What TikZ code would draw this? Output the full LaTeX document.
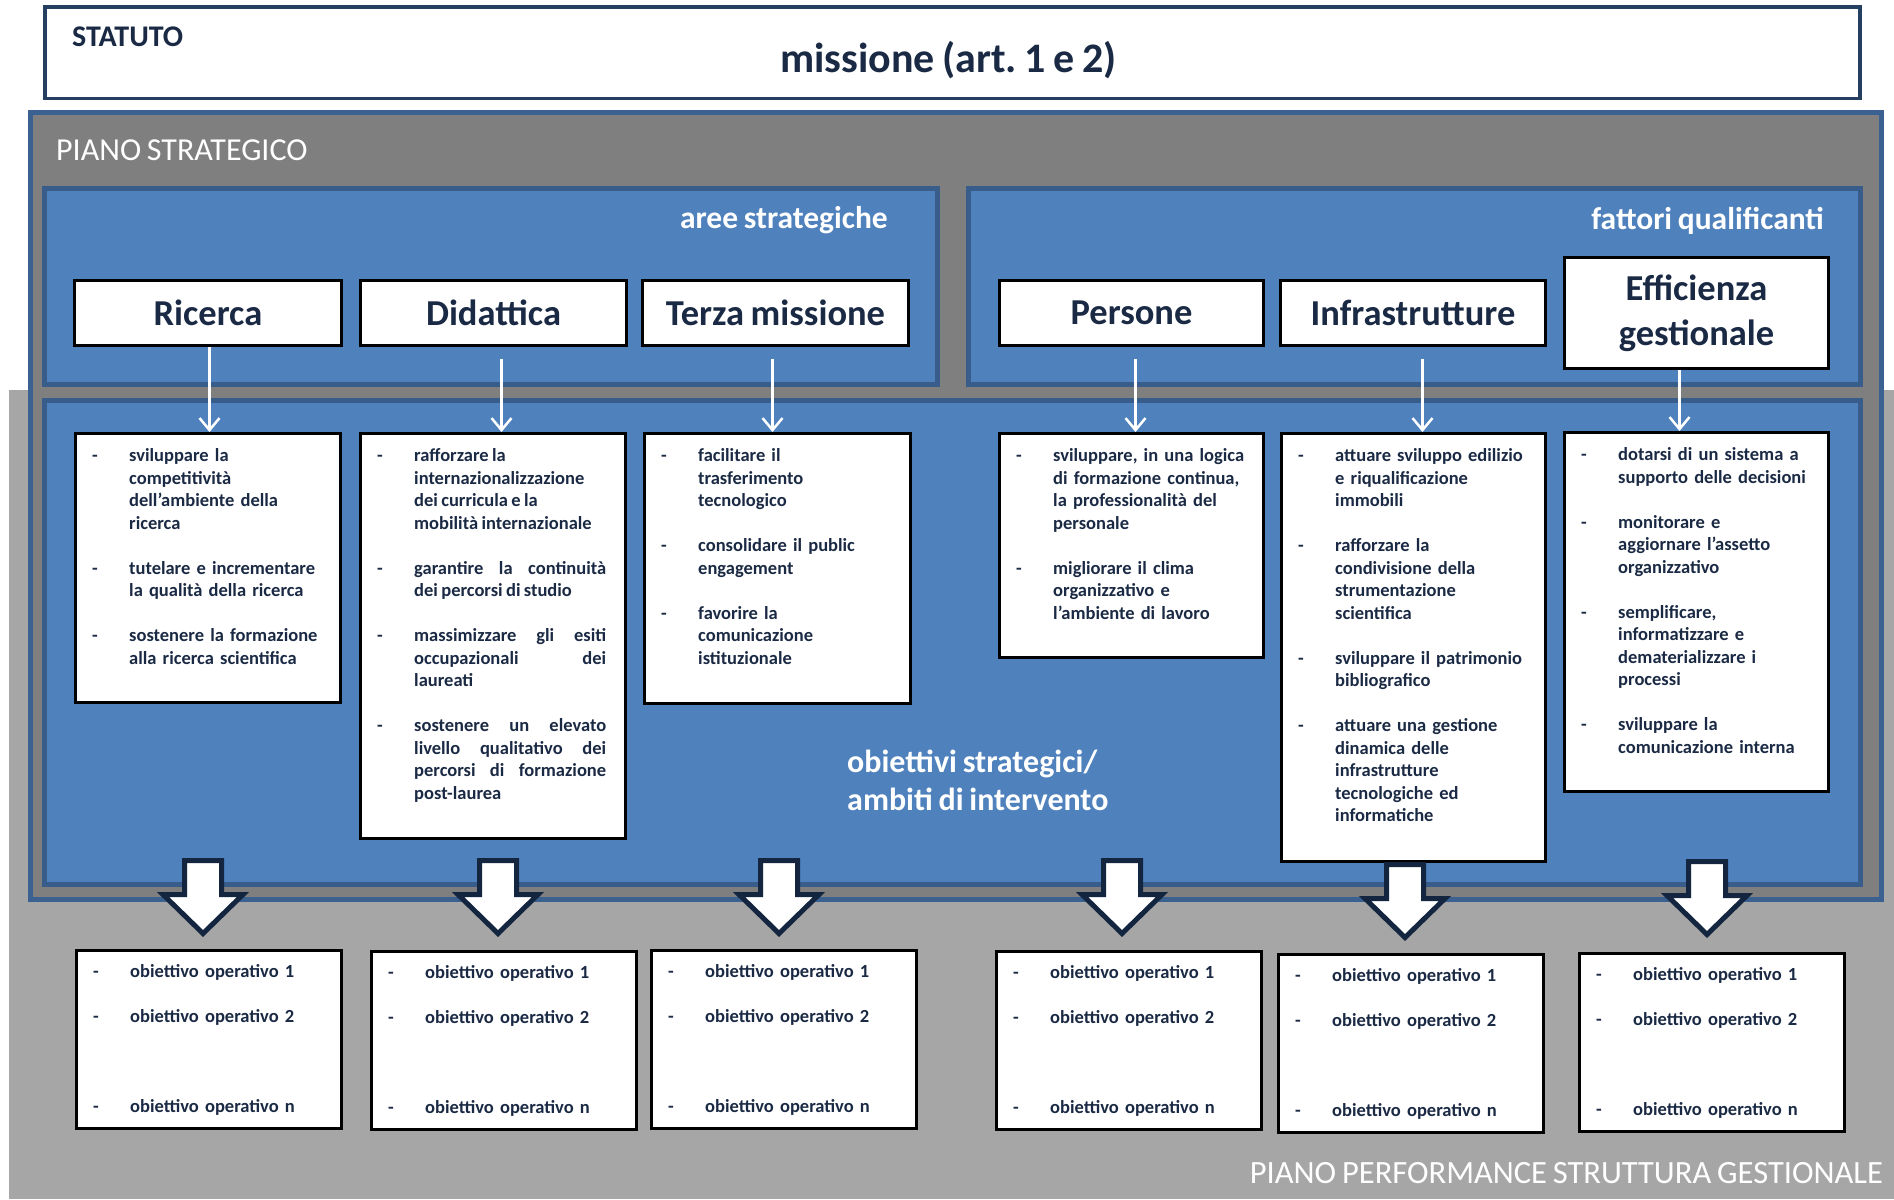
\documentclass[tikz,border=0pt]{standalone}
\usepackage{fontspec}
\setmainfont{Carlito}[WordSpace=0.8]
\usetikzlibrary{arrows.meta}

\definecolor{bluefill}{HTML}{4F81BD}
\definecolor{blueline}{HTML}{385D8A}
\definecolor{pianoline}{HTML}{3B6191}
\definecolor{darkgray}{HTML}{7F7F7F}
\definecolor{lightgray}{HTML}{A6A6A6}
\definecolor{textnavy}{HTML}{1B2A44}
\definecolor{statline}{HTML}{243F60}
\definecolor{arrowline}{HTML}{14263F}

\hyphenpenalty=10000
\exhyphenpenalty=10000
\frenchspacing

% one bullet of a list, with hanging indent
\newcommand{\voce}[1]{\par\noindent\hangindent=37pt\hangafter=1\makebox[37pt][l]{-}\strut#1\par}
\newcommand{\gap}{\vspace{22.5pt}}

\tikzset{
  bluebox/.style={draw=blueline, line width=5pt, fill=bluefill},
  areabox/.style={draw=black, line width=3pt, fill=white, text=textnavy, inner sep=0pt,
    anchor=north west, align=center, font=\bfseries\fontsize{36.5}{45}\selectfont},
  objbox/.style={draw=black, line width=3pt, fill=white, inner sep=0pt, anchor=north west},
  objtext/.style={anchor=north west, inner sep=0pt, text=textnavy, align=left,
    font=\bfseries\fontsize{18.5}{22.5}\selectfont},
  whitetext/.style={text=white, inner sep=0pt},
  thinarrow/.style={draw=white, line width=2.5pt, -{Straight Barb[length=12pt,width=20pt]}},
  blockarrow/.style={draw=arrowline, line width=5pt, fill=white, line join=miter},
}

\begin{document}
\begin{tikzpicture}[x=1pt,y=-1pt]
  \useasboundingbox (0,0) rectangle (1894,1199);

  % backgrounds
  \fill[lightgray] (9,390) rectangle (1894,1199);
  \filldraw[draw=statline, line width=3.5pt, fill=white] (45,7) rectangle (1860,98.5);
  \filldraw[draw=pianoline, line width=5pt, fill=darkgray] (30.5,112.5) rectangle (1881,899.5);
  \filldraw[bluebox] (44.5,188) rectangle (937,384);
  \filldraw[bluebox] (968,188) rectangle (1860,384);
  \filldraw[bluebox] (44.5,400) rectangle (1860,884);

  % titles
  \node[anchor=base west, inner sep=0pt, text=textnavy, font=\bfseries\fontsize{30}{36}\selectfont] (statuto) at (72,47) {STATUTO};
  \node[anchor=base, inner sep=0pt, text=textnavy, font=\bfseries\fontsize{42}{50}\selectfont] (missione) at (948.5,72) {missione (art. 1 e 2)};
  \node[whitetext, anchor=base west, font=\fontsize{32}{38}\selectfont] (piano) at (56,160) {PIANO STRATEGICO};
  \node[whitetext, anchor=base east, font=\bfseries\fontsize{31.5}{38}\selectfont] (aree) at (888,228) {aree strategiche};
  \node[whitetext, anchor=base east, font=\bfseries\fontsize{31.5}{38}\selectfont] (fattori) at (1824,229) {fattori qualificanti};
  \node[whitetext, anchor=north west, align=left, font=\bfseries\fontsize{32}{38}\selectfont] (ambiti) at (847,746) {\strut obiettivi strategici/\\ambiti di intervento};
  \node[whitetext, anchor=base east, font=\fontsize{32.5}{38}\selectfont] (performance) at (1883,1183) {PIANO PERFORMANCE STRUTTURA GESTIONALE};

  % aree strategiche e fattori qualificanti
  \node[areabox, minimum width=267pt, minimum height=65pt] (ric) at (73,279) {Ricerca};
  \node[areabox, minimum width=266pt, minimum height=65pt] (did) at (359,279) {Didattica};
  \node[areabox, minimum width=266pt, minimum height=65pt] (ter) at (641,279) {Terza missione};
  \node[areabox, minimum width=264pt, minimum height=65pt] (per) at (998,279) {Persone};
  \node[areabox, minimum width=265pt, minimum height=65pt] (inf) at (1279,279) {Infrastrutture};
  \node[areabox, minimum width=264pt, minimum height=111pt] (eff) at (1563,256) {Efficienza\\gestionale};

  % obiettivi strategici
  \node[objbox, minimum width=265pt, minimum height=269pt] (ric-obj) at (74,432) {};
  \node[objbox, minimum width=265pt, minimum height=405pt] (did-obj) at (359,432) {};
  \node[objbox, minimum width=266pt, minimum height=270pt] (ter-obj) at (643,432) {};
  \node[objbox, minimum width=264pt, minimum height=224pt] (per-obj) at (998,432) {};
  \node[objbox, minimum width=264pt, minimum height=428pt] (inf-obj) at (1280,432) {};
  \node[objbox, minimum width=264pt, minimum height=359pt] (eff-obj) at (1563,431) {};

  \node[objtext, text width=243pt] (ric-txt) at ([xshift=18pt,yshift=-7pt]ric-obj.north west) {%
    \voce{sviluppare la\newline competitività\newline dell’ambiente della\newline ricerca}\gap
    \voce{tutelare e incrementare\newline la qualità della ricerca}\gap
    \voce{sostenere la formazione\newline alla ricerca scientifica}};
  \node[objtext, align=justify, text width=229pt] (did-txt) at ([xshift=18pt,yshift=-7pt]did-obj.north west) {%
    \voce{rafforzare la\newline internazionalizzazione\newline dei curricula e la\newline mobilità internazionale}\gap
    \voce{garantire la continuità\linebreak dei percorsi di studio}\gap
    \voce{massimizzare gli esiti\linebreak occupazionali dei\linebreak laureati}\gap
    \voce{sostenere un elevato\linebreak livello qualitativo dei\linebreak percorsi di formazione\linebreak post-laurea}};
  \node[objtext, text width=244pt] (ter-txt) at ([xshift=18pt,yshift=-7pt]ter-obj.north west) {%
    \voce{facilitare il\newline trasferimento\newline tecnologico}\gap
    \voce{consolidare il public\newline engagement}\gap
    \voce{favorire la\newline comunicazione\newline istituzionale}};
  \node[objtext, text width=242pt] (per-txt) at ([xshift=18pt,yshift=-7pt]per-obj.north west) {%
    \voce{sviluppare, in una logica\newline di formazione continua,\newline la professionalità del\newline personale}\gap
    \voce{migliorare il clima\newline organizzativo e\newline l’ambiente di lavoro}};
  \node[objtext, text width=242pt] (inf-txt) at ([xshift=18pt,yshift=-7pt]inf-obj.north west) {%
    \voce{attuare sviluppo edilizio\newline e riqualificazione\newline immobili}\gap
    \voce{rafforzare la\newline condivisione della\newline strumentazione\newline scientifica}\gap
    \voce{sviluppare il patrimonio\newline bibliografico}\gap
    \voce{attuare una gestione\newline dinamica delle\newline infrastrutture\newline tecnologiche ed\newline informatiche}};
  \node[objtext, text width=242pt] (eff-txt) at ([xshift=18pt,yshift=-7pt]eff-obj.north west) {%
    \voce{dotarsi di un sistema a\newline supporto delle decisioni}\gap
    \voce{monitorare e\newline aggiornare l’assetto\newline organizzativo}\gap
    \voce{semplificare,\newline informatizzare e\newline dematerializzare i\newline processi}\gap
    \voce{sviluppare la\newline comunicazione interna}};

  % frecce sottili
  \foreach \n/\dx/\dy in {ric/1.5/0, did/8/-12, ter/-3/-12, per/4/-12, inf/9.5/-12, eff/-17/0} {
    \coordinate (\n-a) at ([xshift=\dx pt,yshift=\dy pt]\n.south);
    \draw[thinarrow] (\n-a) -- (\n-a |- \n-obj.north);
  }

  % frecce grandi
  \foreach \cx/\ty in {203/860.5, 498/860.5, 779/860.5, 1122/860.5, 1405/864.5, 1707/861.5}
    \draw[blockarrow] (\cx-18.5,\ty) -- (\cx+18.5,\ty) -- (\cx+18.5,\ty+34) -- (\cx+40,\ty+34)
      -- (\cx,\ty+73) -- (\cx-40,\ty+34) -- (\cx-18.5,\ty+34) -- cycle;

  % obiettivi operativi
  \foreach \n/\x/\y in {1/75/949, 2/370/950, 3/650/949, 4/995/950, 5/1277/953, 6/1578/952} {
    \node[objbox, minimum width=265pt, minimum height=178pt] (op\n) at (\x,\y) {};
    \node[objtext, text width=240pt] (op\n-txt) at ([xshift=18pt,yshift=-6pt]op\n.north west) {%
      \voce{obiettivo operativo 1}\gap
      \voce{obiettivo operativo 2}\vspace{67.5pt}
      \voce{obiettivo operativo n}};
  }
\end{tikzpicture}
\end{document}
